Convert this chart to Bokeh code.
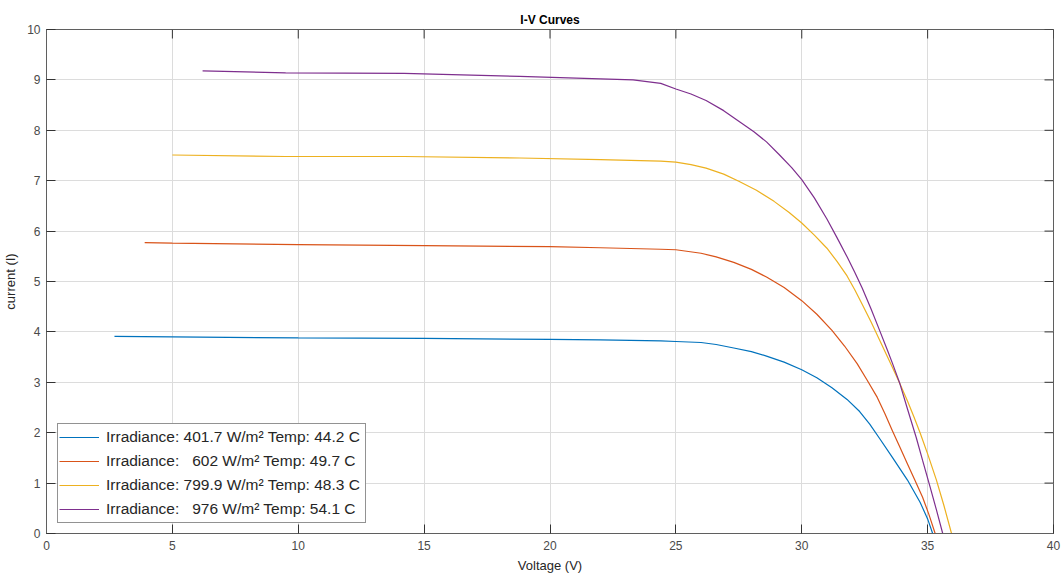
import math
from bokeh.plotting import figure
from bokeh.models import Legend, LegendItem, Range1d, FixedTicker
from bokeh.embed import file_html
from bokeh.resources import INLINE

# ---- data ----
v_401 = [2.7, 5, 10, 15, 20, 22, 24.4, 25, 26, 26.6, 27.3, 28.0, 28.6, 29.3, 30.0, 30.6, 31.2, 31.8, 32.3, 32.7, 33.1, 33.6, 34.2, 34.7, 35.0, 35.2]
i_401 = [3.91, 3.90, 3.88, 3.87, 3.85, 3.84, 3.82, 3.81, 3.79, 3.75, 3.68, 3.61, 3.52, 3.40, 3.25, 3.09, 2.89, 2.66, 2.42, 2.17, 1.88, 1.51, 1.06, 0.62, 0.29, 0.0]

v_602 = [3.9, 5, 10, 15, 20, 22, 24.4, 25, 26, 26.6, 27.3, 28.0, 28.6, 29.3, 30.0, 30.6, 31.2, 31.7, 32.2, 32.6, 33.0, 33.3, 33.6, 33.9, 34.2, 34.5, 34.8, 35.05, 35.3]
i_602 = [5.77, 5.76, 5.73, 5.71, 5.69, 5.67, 5.64, 5.63, 5.56, 5.49, 5.38, 5.24, 5.09, 4.88, 4.62, 4.35, 4.03, 3.72, 3.37, 3.04, 2.70, 2.38, 2.04, 1.71, 1.38, 1.05, 0.72, 0.38, 0.0]

v_800 = [5.0, 9.5, 14.2, 18.8, 22, 24.4, 25.0, 25.6, 26.2, 26.9, 27.5, 28.2, 28.9, 29.5, 30.0, 30.5, 31.0, 31.4, 31.8, 32.1, 32.4, 32.75, 33.1, 33.6, 33.9, 34.2, 34.45, 34.7, 35.0, 35.35, 35.65, 35.95]
i_800 = [7.51, 7.48, 7.48, 7.45, 7.42, 7.39, 7.37, 7.32, 7.25, 7.13, 6.99, 6.81, 6.59, 6.37, 6.16, 5.92, 5.66, 5.40, 5.11, 4.84, 4.55, 4.20, 3.83, 3.30, 2.97, 2.63, 2.32, 2.00, 1.58, 1.06, 0.55, 0.0]

v_976 = [6.2, 9.5, 14.2, 18.8, 22.0, 23.3, 24.4, 25.0, 25.6, 26.2, 26.9, 27.5, 28.1, 28.6, 29.1, 29.6, 30.0, 30.5, 31.0, 31.4, 31.8, 32.1, 32.4, 32.75, 33.1, 33.4, 33.6, 33.9, 34.2, 34.55, 34.8, 35.1, 35.35, 35.6]
i_976 = [9.18, 9.14, 9.13, 9.07, 9.02, 9.00, 8.93, 8.82, 8.72, 8.59, 8.39, 8.18, 7.97, 7.77, 7.52, 7.26, 7.02, 6.66, 6.24, 5.87, 5.49, 5.19, 4.87, 4.46, 4.02, 3.64, 3.38, 2.97, 2.47, 1.90, 1.45, 0.92, 0.47, 0.0]

labels = [
    "Irradiance: 401.7 W/m\u00b2 Temp: 44.2 C",
    "Irradiance: \u00a0\u00a0602 W/m\u00b2 Temp: 49.7 C",
    "Irradiance: 799.9 W/m\u00b2 Temp: 48.3 C",
    "Irradiance: \u00a0\u00a0976 W/m\u00b2 Temp: 54.1 C",
]
colors = ["#0072BD", "#D95319", "#EDB120", "#7E2F8E"]
x_ticks = [0, 5, 10, 15, 20, 25, 30, 35, 40]
y_ticks = [0, 1, 2, 3, 4, 5, 6, 7, 8, 9, 10]

FONT = "Liberation Sans"
TXT = "#262626"
AX = "#5f5f5f"
GRID = "#dcdcdc"

p = figure(width=1062, height=579, output_backend="svg", toolbar_location=None,
           x_range=Range1d(x_ticks[0], x_ticks[-1]), y_range=Range1d(y_ticks[0], y_ticks[-1]),
           min_border_left=46, min_border_right=9, min_border_top=29, min_border_bottom=46,
           x_axis_label="Voltage (V)", y_axis_label="current (I)")

p.title.text = "I-V Curves"
p.title.align = "center"
p.title.text_font = FONT
p.title.text_font_size = "12px"
p.title.text_font_style = "bold"
p.title.text_color = "#000000"
p.title.standoff = 6

p.background_fill_color = "white"
p.border_fill_color = "white"
p.outline_line_color = AX
p.outline_line_width = 1

for ax in list(p.xaxis) + list(p.yaxis):
    ax.major_tick_in = 9
    ax.major_tick_out = 0
    ax.minor_tick_in = 0
    ax.minor_tick_out = 0
    ax.axis_line_color = AX
    ax.major_tick_line_color = "#333333"
    ax.major_label_text_font = FONT
    ax.major_label_text_font_size = "12px"
    ax.major_label_text_color = "#4a4a4a"
    ax.axis_label_text_font = FONT
    ax.axis_label_text_font_size = "13px"
    ax.axis_label_text_font_style = "normal"
    ax.axis_label_text_color = TXT

p.xaxis.ticker = FixedTicker(ticks=x_ticks)
p.yaxis.ticker = FixedTicker(ticks=y_ticks)
p.xaxis.major_label_standoff = 7
p.xaxis.axis_label_standoff = 5
p.yaxis.major_label_standoff = 6
p.yaxis.axis_label_standoff = 6

p.xgrid.ticker = FixedTicker(ticks=x_ticks)
p.ygrid.ticker = FixedTicker(ticks=y_ticks)
p.xgrid.grid_line_color = GRID
p.ygrid.grid_line_color = GRID

# inward tick marks on the top and right edges of the box (clipped to the frame)
p.scatter(x_ticks, [y_ticks[-1]] * len(x_ticks), marker="dash", angle=math.pi / 2,
          size=18, line_color="#333333", line_width=1)
p.scatter([x_ticks[-1]] * len(y_ticks), y_ticks, marker="dash",
          size=18, line_color="#333333", line_width=1)

series = [(v_401, i_401), (v_602, i_602), (v_800, i_800), (v_976, i_976)]
items = []
for (vv, ii), c, lab in zip(series, colors, labels):
    r = p.line(vv, ii, line_color=c, line_width=1.2)
    items.append(LegendItem(label=lab, renderers=[r]))

legend = Legend(items=items, location=(11, 10))
legend.label_text_font = FONT
legend.label_text_font_size = "15.5px"
legend.label_text_color = TXT
legend.border_line_color = "#262626"
legend.border_line_width = 1
legend.background_fill_color = "white"
legend.background_fill_alpha = 1
legend.padding = 1
legend.spacing = 0
legend.margin = 0
legend.label_height = 24
legend.label_width = 258
legend.glyph_height = 24
legend.glyph_width = 40
legend.label_standoff = 7
p.add_layout(legend, "center")

open("out.html", "w").write(file_html(p, INLINE))
